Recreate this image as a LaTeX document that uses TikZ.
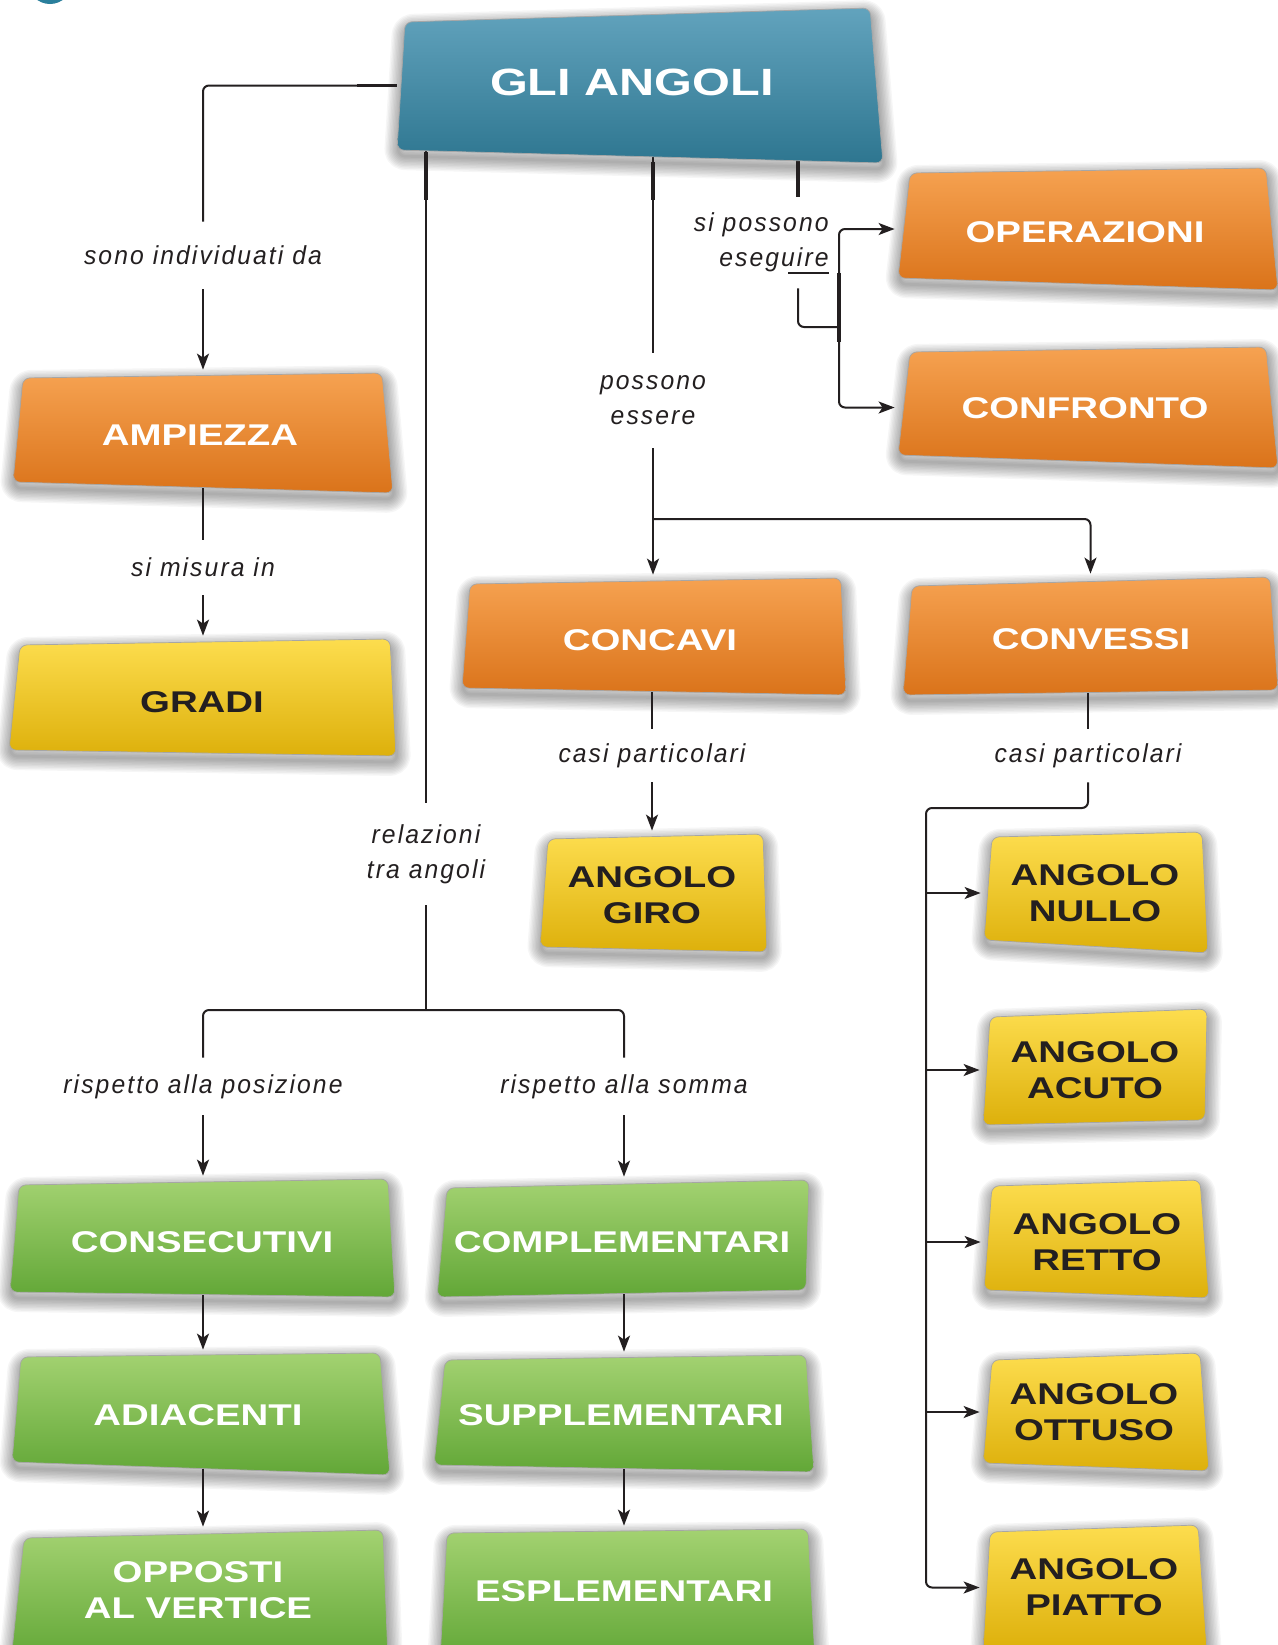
\documentclass[tikz,border=0pt]{standalone}
\usepackage{fontspec}
\setmainfont{Liberation Sans}
\newfontfamily\boxfont{Liberation Sans}[FakeStretch=1.28]
\newfontfamily\linkfont{Liberation Sans}[FakeStretch=0.95, LetterSpace=8]
\usetikzlibrary{arrows.meta,fit}

\definecolor{ink}{HTML}{231F20}
\definecolor{tealA}{HTML}{62A3BD}
\definecolor{tealB}{HTML}{4A8DA9}
\definecolor{tealC}{HTML}{2E7690}
\definecolor{orA}{HTML}{F6A251}
\definecolor{orB}{HTML}{F28B24}
\definecolor{orC}{HTML}{DA731A}
\definecolor{yeA}{HTML}{FDDD4E}
\definecolor{yeB}{HTML}{FCD310}
\definecolor{yeC}{HTML}{DDB00B}
\definecolor{grA}{HTML}{A3D271}
\definecolor{grB}{HTML}{88C346}
\definecolor{grC}{HTML}{62A737}
\definecolor{dot}{HTML}{2A7F9C}

\tikzset{
  shadowring/.style={draw=black, draw opacity=0.034, line join=round,
    rounded corners=3.5pt, shift={(1,6)}},
  boxbody/.style={rounded corners=3.5pt, draw=black!35, line width=0.35pt},
  boxtext/.style={inner sep=0pt, align=center, text=white,
    font=\boxfont\bfseries\fontsize{15}{18.3}\selectfont},
  teal fill/.style={top color=tealA, middle color=tealB, bottom color=tealC},
  teal ink/.style={text=white, font=\boxfont\bfseries\fontsize{19}{22}\selectfont},
  orange fill/.style={top color=orA, middle color=orB, bottom color=orC},
  orange ink/.style={text=white},
  yellow fill/.style={top color=yeA, middle color=yeB, bottom color=yeC},
  yellow ink/.style={text=ink},
  green fill/.style={top color=grA, middle color=grB, bottom color=grC},
  green ink/.style={text=white},
  lbl/.style={inner sep=0pt, align=center, text=ink,
    font=\linkfont\itshape\fontsize{13}{17.5}\selectfont},
  conn/.style={draw=ink, line width=1pt, rounded corners=3pt},
  arr/.style={conn, -{Stealth[length=8pt,width=6pt,inset=2pt]}, shorten >=1.5pt},
  stub/.style={draw=ink, line width=1.6pt},
}

% first pass: soft shadow (stacked translucent strokes), outline node and text anchor
% arguments: name, palette, corners TL TR BR BL, text position, text
\newcommand\shadowpass[8]{%
  \foreach \k in {1,...,10} {
    \path[shadowring, line width=1.4pt*\k] (#3) -- (#4) -- (#5) -- (#6) -- cycle;
  }
  \node[fit={(#3) (#4) (#5) (#6)}, inner sep=0pt] (#1) {};
  \coordinate (#1-t) at (#7);
}
% second pass: shaded body and caption of a box
\newcommand\bodypass[8]{%
  \path[boxbody, #2 fill] (#3) -- (#4) -- (#5) -- (#6) -- cycle;
  \node[boxtext, #2 ink] (#1-label) at (#7) {#8};
}

\newcommand\allboxes{%
\conceptbox{title}{teal}{405,22}{870,8}{883,163}{397,150}{632,82}{GLI ANGOLI}
\conceptbox{operazioni}{orange}{910,173}{1266,168}{1278,290}{898,278}{1085,232}{OPERAZIONI}
\conceptbox{confronto}{orange}{910,352}{1266,347}{1278,468}{898,455}{1085,408}{CONFRONTO}
\conceptbox{ampiezza}{orange}{23,378}{382,373}{393,493}{13,482}{200,435}{AMPIEZZA}
\conceptbox{gradi}{yellow}{20,645}{390,639}{396,756}{9,750}{202,702}{GRADI}
\conceptbox{concavi}{orange}{470,584}{841,578}{846,695}{462,688}{650,640}{CONCAVI}
\conceptbox{convessi}{orange}{912,586}{1270,577}{1278,690}{903,695}{1091,639}{CONVESSI}
\conceptbox{giro}{yellow}{548,839}{763,834}{767,952}{540,947}{652,895}{ANGOLO\\GIRO}
\conceptbox{nullo}{yellow}{992,837}{1202,832}{1208,953}{984,940}{1095,893}{ANGOLO\\NULLO}
\conceptbox{acuto}{yellow}{990,1017}{1207,1009}{1205,1120}{983,1125}{1095,1070}{ANGOLO\\ACUTO}
\conceptbox{retto}{yellow}{992,1186}{1200,1180}{1209,1298}{984,1290}{1097,1242}{ANGOLO\\RETTO}
\conceptbox{ottuso}{yellow}{992,1360}{1200,1353}{1209,1471}{983,1463}{1094,1412}{ANGOLO\\OTTUSO}
\conceptbox{piatto}{yellow}{990,1532}{1198,1525}{1207,1650}{983,1650}{1094,1587}{ANGOLO\\PIATTO}
\conceptbox{consecutivi}{green}{19,1185}{388,1179}{395,1297}{10,1292}{202,1242}{CONSECUTIVI}
\conceptbox{complementari}{green}{447,1188}{809,1180}{806,1290}{437,1297}{622,1242}{COMPLEMENTARI}
\conceptbox{adiacenti}{green}{21,1357}{380,1353}{390,1475}{12,1462}{198,1415}{ADIACENTI}
\conceptbox{supplementari}{green}{445,1360}{806,1355}{814,1472}{434,1465}{621,1415}{SUPPLEMENTARI}
\conceptbox{opposti}{green}{24,1538}{383,1530}{388,1660}{11,1660}{198,1590}{OPPOSTI\\AL VERTICE}
\conceptbox{esplementari}{green}{447,1533}{808,1529}{815,1660}{440,1660}{624,1591}{ESPLEMENTARI}
}

\begin{document}
\begin{tikzpicture}[x=0.5pt, y=-0.5pt]
\useasboundingbox (0,0) rectangle (1278,1645);
\fill[white] (0,0) rectangle (1278,1645);
\fill[dot] (50,-18) circle (22);

% shadows and outline nodes of the boxes
\let\conceptbox\shadowpass
\allboxes

% link labels
\node[lbl, minimum height=67*0.5pt] (lbl1) at (203,255.5) {sono individuati da};
\node[lbl, minimum height=55*0.5pt] (lblmis) at (203,567.5) {si misura in};
\node[lbl, minimum height=102*0.5pt] (lblrel) at (426,854) {relazioni\\tra angoli};
\node[lbl, minimum height=95*0.5pt] (lblposs) at (653,400.5) {possono\\essere};
\node[lbl, align=right, anchor=east, minimum height=91*0.5pt] (lblese) at (829,242.5) {si possono\\eseguire};
\node[lbl, minimum height=57*0.5pt] (lblpos) at (203,1086.5) {rispetto alla posizione};
\node[lbl, minimum height=57*0.5pt] (lblsom) at (624,1086.5) {rispetto alla somma};
\node[lbl, minimum height=53*0.5pt] (lblcc1) at (652,755.5) {casi particolari};
\node[lbl, minimum height=53*0.5pt] (lblcc2) at (1088,755.5) {casi particolari};

\coordinate (eseg) at (798,0);
\coordinate (fork) at (839,327);
\coordinate (possplit) at (653,519);
\coordinate (relsplit) at (426,1010);
\coordinate (trunk) at (926,808);

% ampiezza branch
\draw[conn] (title.west) -| (lbl1.north);
\draw[stub] (title.west) -- ++(-40,0);
\draw[arr] (lbl1.south) -- (lbl1.south |- ampiezza.north);
\draw[conn] (lblmis.north |- ampiezza.center) -- (lblmis.north);
\draw[arr] (lblmis.south) -- (lblmis.south |- gradi.north);

% relations between angles
\draw[conn] (lblrel.north |- title.center) -- (lblrel.north);
\draw[stub] (426,152) -- (426,200);
\draw[conn] (lblrel.south) -- (relsplit);
\draw[conn] (lblpos.north) |- (relsplit) -| (lblsom.north);
\draw[arr] (lblpos.south) -- (lblpos.south |- consecutivi.north);
\draw[arr] (lblsom.south) -- (lblsom.south |- complementari.north);
\draw[arr] (lblpos |- consecutivi.center) -- (lblpos |- adiacenti.north);
\draw[arr] (lblpos |- adiacenti.center) -- (lblpos |- opposti.north);
\draw[arr] (lblsom |- complementari.center) -- (lblsom |- supplementari.north);
\draw[arr] (lblsom |- supplementari.center) -- (lblsom |- esplementari.north);

% concave / convex
\draw[conn] (lblposs.north |- title.center) -- (lblposs.north);
\draw[stub] (653,162) -- (653,200);
\draw[arr] (lblposs.south) -- (lblposs.south |- concavi.north);
\draw[arr] (possplit) -| (convessi.north);
\draw[conn] (lblcc1.north |- concavi.center) -- (lblcc1.north);
\draw[arr] (lblcc1.south) -- (lblcc1.south |- giro.north);
\draw[conn] (lblcc2.north |- convessi.center) -- (lblcc2.north);
\draw[arr] (lblcc2.south) |- (trunk) |- (piatto.west);
\draw[arr] (trunk |- nullo-t) -- (nullo-t -| nullo.west);
\draw[arr] (trunk |- acuto-t) -- (acuto-t -| acuto.west);
\draw[arr] (trunk |- retto-t) -- (retto-t -| retto.west);
\draw[arr] (trunk |- ottuso-t) -- (ottuso-t -| ottuso.west);

% operations
\draw[stub] (eseg |- title.center) -- (eseg |- lblese.north);
\draw[ink, line width=0.6pt] (788,273) -- (829,273);
\draw[conn] (eseg |- lblese.south) |- (fork);
\draw[arr] (fork) |- (operazioni.west);
\draw[arr] (fork) |- (confronto.west);
\draw[stub] (839,273) -- (839,342);

% box bodies on top
\let\conceptbox\bodypass
\allboxes
\end{tikzpicture}
\end{document}
